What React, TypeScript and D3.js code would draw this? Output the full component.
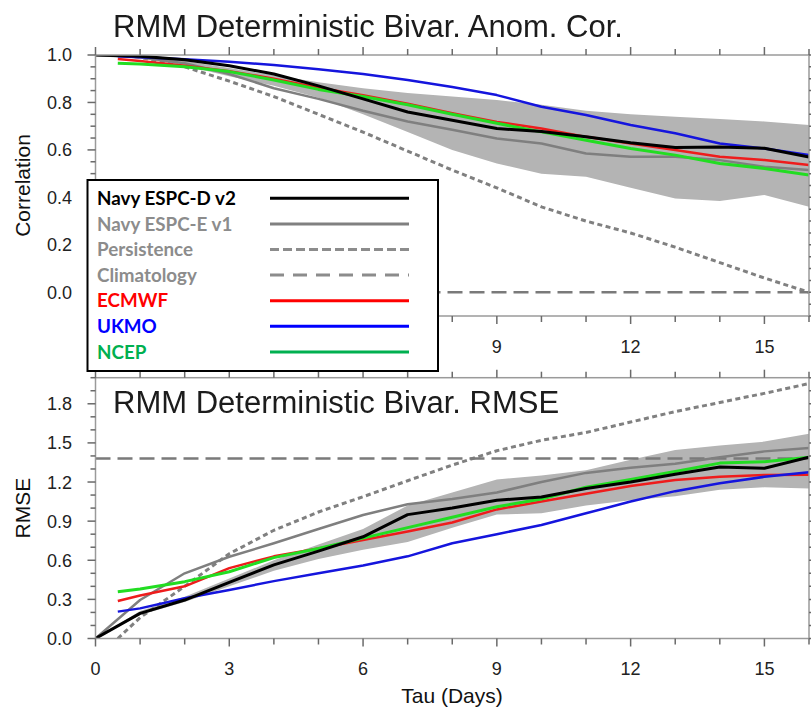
import React from "react";
import * as d3 from "d3";

const W = 811;
const H = 710;

// Forecast lead times (days)
const tauAll = [0, 1, 2, 3, 4, 5, 6, 7, 8, 9, 10, 11, 12, 13, 14, 15, 16];
const tauModel = [0.5, 1, 2, 3, 4, 5, 6, 7, 8, 9, 10, 11, 12, 13, 14, 15, 16];

// Bivariate anomaly correlation
const corrNavyD = [1.0, 0.995, 0.98, 0.955, 0.92, 0.87, 0.815, 0.76, 0.725, 0.69, 0.678, 0.655, 0.63, 0.61, 0.612, 0.607, 0.57];
const corrNavyE = [1.0, 0.99, 0.965, 0.92, 0.86, 0.815, 0.765, 0.72, 0.685, 0.648, 0.627, 0.585, 0.571, 0.571, 0.557, 0.529, 0.515];
const corrPersistence = [1.0, 0.99, 0.95, 0.89, 0.825, 0.75, 0.675, 0.595, 0.515, 0.44, 0.36, 0.3, 0.25, 0.19, 0.125, 0.06, 0.0];
const corrClimatology = [0, 0, 0, 0, 0, 0, 0, 0, 0, 0, 0, 0, 0, 0, 0, 0, 0];
const corrECMWF = [0.983, 0.975, 0.955, 0.932, 0.9, 0.862, 0.83, 0.795, 0.755, 0.718, 0.69, 0.655, 0.627, 0.6, 0.571, 0.557, 0.536];
const corrUKMO = [0.995, 0.99, 0.982, 0.972, 0.958, 0.94, 0.92, 0.895, 0.865, 0.831, 0.782, 0.747, 0.705, 0.67, 0.627, 0.606, 0.578];
const corrNCEP = [0.965, 0.962, 0.95, 0.93, 0.895, 0.855, 0.825, 0.79, 0.75, 0.712, 0.676, 0.641, 0.606, 0.578, 0.543, 0.522, 0.494];
const corrSpreadLow = [1.0, 0.985, 0.955, 0.91, 0.87, 0.82, 0.75, 0.675, 0.6, 0.543, 0.5, 0.487, 0.44, 0.395, 0.385, 0.41, 0.36];
const corrSpreadHigh = [1.0, 0.995, 0.975, 0.945, 0.915, 0.885, 0.86, 0.84, 0.825, 0.81, 0.79, 0.765, 0.75, 0.74, 0.73, 0.72, 0.705];

// Bivariate RMSE
const rmseNavyD = [0, 0.193, 0.295, 0.43, 0.565, 0.67, 0.78, 0.95, 1.0, 1.06, 1.085, 1.15, 1.2, 1.26, 1.315, 1.305, 1.39];
const rmseNavyE = [0, 0.295, 0.5, 0.627, 0.73, 0.84, 0.947, 1.03, 1.07, 1.12, 1.2, 1.27, 1.31, 1.34, 1.39, 1.435, 1.46];
const rmsePersistence = [0, 0.16, 0.4, 0.65, 0.83, 0.97, 1.087, 1.21, 1.33, 1.44, 1.52, 1.58, 1.66, 1.74, 1.81, 1.88, 1.955];
const rmseClimatology = [1.38, 1.38, 1.38, 1.38, 1.38, 1.38, 1.38, 1.38, 1.38, 1.38, 1.38, 1.38, 1.38, 1.38, 1.38, 1.38, 1.38];
const rmseECMWF = [0.288, 0.33, 0.4, 0.54, 0.63, 0.69, 0.755, 0.82, 0.89, 0.99, 1.05, 1.11, 1.17, 1.215, 1.24, 1.254, 1.255];
const rmseUKMO = [0.206, 0.231, 0.308, 0.372, 0.44, 0.5, 0.56, 0.63, 0.73, 0.8, 0.87, 0.96, 1.05, 1.13, 1.19, 1.24, 1.275];
const rmseNCEP = [0.359, 0.38, 0.436, 0.512, 0.62, 0.69, 0.77, 0.85, 0.93, 1.01, 1.07, 1.16, 1.22, 1.28, 1.345, 1.356, 1.39];
const rmseSpreadLow = [0, 0.18, 0.28, 0.4, 0.52, 0.61, 0.68, 0.74, 0.85, 0.95, 0.96, 1.02, 1.06, 1.09, 1.14, 1.16, 1.15];
const rmseSpreadHigh = [0, 0.21, 0.32, 0.46, 0.6, 0.72, 0.84, 1.02, 1.12, 1.22, 1.25, 1.29, 1.37, 1.445, 1.48, 1.51, 1.57];

// Legend
const legendNames = ["Navy ESPC-D v2", "Navy ESPC-E v1", "Persistence", "Climatology", "ECMWF", "UKMO", "NCEP"];
const legendTextColors = ["#000000", "#8c8c8c", "#8c8c8c", "#8c8c8c", "#ff0000", "#0000ff", "#00b050"];
const legendLineColors = ["#000000", "#808080", "#8c8c8c", "#8c8c8c", "#ff0000", "#0000ff", "#00b050"];
const legendDashes = [null, null, "9,4", "14,9", null, null, null];

const xTickLabels = [0, 3, 6, 9, 12, 15];
const corrTickLabels = [0.0, 0.2, 0.4, 0.6, 0.8, 1.0];
const rmseTickLabels = [0.0, 0.3, 0.6, 0.9, 1.2, 1.5, 1.8];

const FONT = "'Liberation Sans', Arial, Helvetica, sans-serif";
const AXIS = "#9a9a9a";
const TICK = "#6a6a6a";

// legend box (it sits over the lower-left of the correlation panel)
const LEG = { left: 87.5, top: 180, right: 438, bottom: 371 };

const x = d3.scaleLinear().domain([0, 16]).range([95.5, 809]);
const yCorr = d3.scaleLinear().domain([-0.1, 1.0]).range([316, 55]);
const yRmse = d3.scaleLinear().domain([0, 2.0]).range([638.5, 377.7]);

type LineSpec = {
  tau: number[];
  values: number[];
  color: string;
  width: number;
  dash?: string;
};

function seriesFor(kind: "corr" | "rmse"): LineSpec[] {
  const c = kind === "corr";
  return [
    { tau: tauModel, values: c ? corrPersistence : rmsePersistence, color: "#808080", width: 3, dash: "5,3.5" },
    { tau: tauAll, values: c ? corrClimatology : rmseClimatology, color: "#7a7a7a", width: 2.5, dash: "15,7" },
    { tau: tauAll, values: c ? corrNavyE : rmseNavyE, color: "#7f7f7f", width: 2.5 },
    { tau: tauModel, values: c ? corrECMWF : rmseECMWF, color: "#ee1c1c", width: 2.5 },
    { tau: tauModel, values: c ? corrNCEP : rmseNCEP, color: "#22dd22", width: 3 },
    { tau: tauModel, values: c ? corrUKMO : rmseUKMO, color: "#1515dd", width: 2.5 },
    { tau: tauAll, values: c ? corrNavyD : rmseNavyD, color: "#000000", width: 3 },
  ];
}

function Panel(props: {
  y: d3.ScaleLinear<number, number>;
  kind: "corr" | "rmse";
  minorStep: number;
  labels: number[];
  title: string;
  yTitle: string;
  low: number[];
  high: number[];
}) {
  const { y, kind, minorStep, labels, title, yTitle, low, high } = props;
  const [x0, x1] = x.range();
  const [yb, yt] = y.range();
  const [d0, d1] = y.domain();
  const minor = d3.range(Math.round(d0 / minorStep), Math.round(d1 / minorStep) + 1).map((i) => i * minorStep);
  const days = d3.range(0, 17);

  const area = d3
    .area<number>()
    .x((_, i) => x(tauAll[i]))
    .y0((_, i) => y(low[i]))
    .y1((_, i) => y(high[i]));

  const lineGen = (tau: number[]) =>
    d3
      .line<number>()
      .x((_, i) => x(tau[i]))
      .y((v) => y(v));

  const clipId = `clip-${kind}`;
  const isMajorY = (v: number) => labels.some((l) => Math.abs(l - v) < 1e-6);

  // tick labels that would sit under the legend box are not drawn
  const labelY = yb + 36.5;
  const visibleX = xTickLabels.filter(
    (d) => !(labelY > LEG.top && labelY < LEG.bottom + 10 && x(d) < LEG.right + 8)
  );

  return (
    <g>
      <defs>
        <clipPath id={clipId}>
          <rect x={x0} y={yt} width={x1 - x0} height={yb - yt} />
        </clipPath>
      </defs>
      <g clipPath={`url(#${clipId})`}>
        <path d={area(low) || ""} fill="#b4b4b4" stroke="none" />
        {seriesFor(kind).map((s, i) => (
          <path
            key={i}
            d={lineGen(s.tau)(s.values) || ""}
            fill="none"
            stroke={s.color}
            strokeWidth={s.width}
            strokeDasharray={s.dash}
            strokeLinejoin="round"
          />
        ))}
      </g>

      {/* frame */}
      <rect x={x0} y={yt} width={x1 - x0} height={yb - yt} fill="none" stroke={AXIS} strokeWidth={1.5} />

      {/* x ticks, top and bottom, pointing outward */}
      {days.map((d) => {
        const len = d % 3 === 0 ? 8 : 6;
        return (
          <g key={`xt${d}`} stroke={TICK} strokeWidth={1.5}>
            <line x1={x(d)} x2={x(d)} y1={yt} y2={yt - len} />
            <line x1={x(d)} x2={x(d)} y1={yb} y2={yb + len} />
          </g>
        );
      })}
      {visibleX.map((d) => (
        <text key={`xl${d}`} x={x(d)} y={labelY} textAnchor="middle" fontFamily={FONT} fontSize={18} fill="#222">
          {d}
        </text>
      ))}

      {/* y ticks, left and right */}
      {minor.map((v, i) => {
        const len = isMajorY(v) ? 8 : 5;
        return (
          <g key={`yt${i}`} stroke={TICK} strokeWidth={1.5}>
            <line x1={x0} x2={x0 - len} y1={y(v)} y2={y(v)} />
            <line x1={x1} x2={x1 + len} y1={y(v)} y2={y(v)} />
          </g>
        );
      })}
      {labels.map((v) => (
        <text
          key={`yl${v}`}
          x={72}
          y={y(v)}
          dy="0.36em"
          textAnchor="end"
          fontFamily={FONT}
          fontSize={18}
          fill="#222"
        >
          {v.toFixed(1)}
        </text>
      ))}

      <text
        transform={`translate(30,${(yt + yb) / 2}) rotate(-90)`}
        textAnchor="middle"
        fontFamily={FONT}
        fontSize={21}
        fill="#111"
      >
        {yTitle}
      </text>

      <text
        x={113}
        y={kind === "corr" ? 36.5 : 413}
        fontFamily={FONT}
        fontSize={31}
        fill="#1a1a1a"
        filter="url(#soft)"
      >
        {title}
      </text>
    </g>
  );
}

function Legend() {
  const rowY = (i: number) => 198.3 + i * 25.6;
  return (
    <g>
      <rect
        x={LEG.left}
        y={LEG.top}
        width={LEG.right - LEG.left}
        height={LEG.bottom - LEG.top}
        fill="#ffffff"
        stroke="#000"
        strokeWidth={2}
      />
      {legendNames.map((name, i) => (
        <g key={name}>
          <text
            x={97}
            y={rowY(i)}
            dy="0.36em"
            fontFamily="Lato, 'Open Sans', sans-serif"
            fontWeight={700}
            fontSize={18.8}
            fill={legendTextColors[i]}
          >
            {name}
          </text>
          <line
            x1={270}
            x2={409}
            y1={rowY(i)}
            y2={rowY(i)}
            stroke={legendLineColors[i]}
            strokeWidth={3}
            strokeDasharray={legendDashes[i] || undefined}
          />
        </g>
      ))}
    </g>
  );
}

export default function App() {
  return (
    <svg
      width={W}
      height={H}
      viewBox={`0 0 ${W} ${H}`}
      style={{ position: "absolute", left: 0, top: 0, background: "#fff" }}
    >
      <defs>
        <filter id="soft" x="-5%" y="-20%" width="110%" height="140%">
          <feGaussianBlur stdDeviation={0.6} />
        </filter>
      </defs>
      <rect width={W} height={H} fill="#fff" />
      <Panel
        y={yCorr}
        kind="corr"
        minorStep={0.05}
        labels={corrTickLabels}
        title="RMM Deterministic Bivar. Anom. Cor."
        yTitle="Correlation"
        low={corrSpreadLow}
        high={corrSpreadHigh}
      />
      <Panel
        y={yRmse}
        kind="rmse"
        minorStep={0.1}
        labels={rmseTickLabels}
        title="RMM Deterministic Bivar. RMSE"
        yTitle="RMSE"
        low={rmseSpreadLow}
        high={rmseSpreadHigh}
      />
      <Legend />
      <text x={452} y={703} textAnchor="middle" fontFamily={FONT} fontSize={21} fill="#111">
        Tau (Days)
      </text>
    </svg>
  );
}
